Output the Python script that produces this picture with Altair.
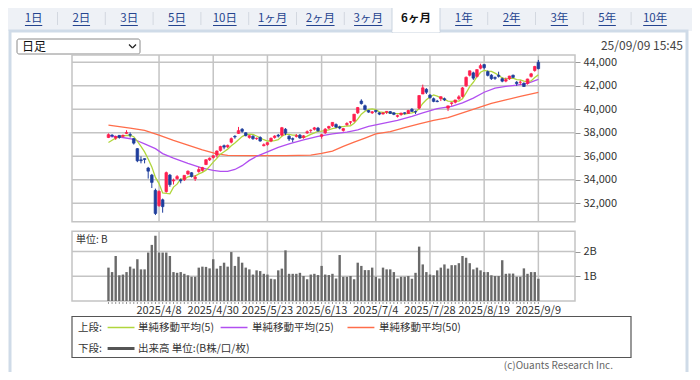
import altair as alt
import pandas as pd

# ---------------- data ----------------
month_days = {
    3: [18, 19, 21, 24, 25, 26, 27, 28, 31],
    4: [1, 2, 3, 4, 7, 8, 9, 10, 11, 14, 15, 16, 17, 18, 21, 22, 23, 24, 25, 28, 30],
    5: [1, 2, 7, 8, 9, 12, 13, 14, 15, 16, 19, 20, 21, 22, 23, 26, 27, 28, 29, 30],
    6: [2, 3, 4, 5, 6, 9, 10, 11, 12, 13, 16, 17, 18, 19, 20, 23, 24, 25, 26, 27, 30],
    7: [1, 2, 3, 4, 7, 8, 9, 10, 11, 14, 15, 16, 17, 18, 22, 23, 24, 25, 28, 29, 30, 31],
    8: [1, 4, 5, 6, 7, 8, 12, 13, 14, 15, 18, 19, 20, 21, 22, 25, 26, 27, 28, 29],
    9: [1, 2, 3, 4, 5, 8, 9],
}
dates = [f"2025/{m}/{d}" for m, ds in month_days.items() for d in ds]

opens = [37600, 37800, 37550, 37780, 37700, 37950, 37850, 37500, 36650, 35700,
         35800, 35000, 34400, 33100, 31800, 32300, 33000, 34400, 33900, 34100,
         34000, 34000, 34500, 34600, 34100, 34700, 34800, 35300, 35700, 35900,
         36100, 36500, 36900, 36800, 37200, 37700, 37950, 38300, 38000, 37600,
         37700, 37500, 37600, 36900, 37000, 37300, 37600, 37800, 37800, 38300,
         37700, 37500, 37700, 37800, 37600, 38000, 38200, 38300, 38400, 37700,
         38000, 38400, 38600, 38700, 38500, 38200, 38700, 38900, 39000, 39700,
         40700, 40300, 39900, 39700, 39900, 39700, 39600, 39750, 39800, 39700,
         39400, 39550, 39700, 39650, 40000, 39800, 40100, 41300, 41700, 41200,
         40900, 40700, 40900, 40900, 40100, 40500, 40600, 40900, 41100, 42000,
         42900, 43100, 42800, 43500, 43800, 43200, 42900, 42700, 42900, 42600,
         42400, 42600, 42900, 42300, 42300, 42200, 42200, 42800, 43300, 44000]
highs = [37950, 37880, 37760, 37800, 37850, 38220, 38030, 37560, 36700, 36000,
         35830, 35100, 34500, 33250, 33100, 32400, 34700, 34500, 34100, 34400,
         34100, 34400, 34800, 34650, 34400, 35100, 35100, 35750, 35900, 36100,
         36500, 36900, 37000, 37000, 37600, 37800, 38500, 38400, 38050, 37800,
         37800, 37600, 37700, 37100, 37200, 37600, 37800, 37900, 38500, 38400,
         37800, 37600, 37900, 37900, 37800, 38200, 38300, 38500, 38500, 37900,
         38400, 38600, 38900, 38800, 38600, 38400, 38900, 39000, 39600, 40200,
         40850, 40400, 39950, 39850, 39950, 39750, 39750, 39850, 39850, 39750,
         39550, 39700, 39750, 39950, 40100, 39900, 41200, 42100, 41800, 41300,
         41000, 40800, 41100, 41000, 40300, 40600, 40800, 41200, 41900, 42800,
         43300, 43200, 43400, 43880, 43850, 43300, 43000, 42800, 43200, 42700,
         42700, 42850, 42950, 42400, 42450, 42300, 42600, 43100, 43700, 44200]
lows = [37550, 37600, 37400, 37500, 37600, 37900, 37600, 37000, 35500, 35400,
        35400, 34100, 33300, 31000, 31700, 31200, 32900, 33400, 33600, 34000,
        33700, 33900, 34400, 34200, 33900, 34600, 34700, 35250, 35600, 35800,
        35900, 36400, 36600, 36700, 37100, 37500, 37900, 38000, 37700, 37500,
        37400, 37400, 37250, 36850, 36900, 37200, 37500, 37600, 37700, 37800,
        37300, 37200, 37600, 37500, 37500, 37900, 38000, 38200, 38100, 37500,
        37900, 38300, 38500, 38400, 38300, 38100, 38600, 38700, 38900, 39600,
        40400, 39900, 39700, 39600, 39700, 39500, 39550, 39600, 39600, 39500,
        39300, 39450, 39550, 39600, 39800, 39600, 40000, 41300, 41300, 40900,
        40600, 40600, 40700, 40700, 39850, 40300, 40500, 40800, 41000, 41900,
        42800, 42500, 42700, 43400, 43400, 42800, 42500, 42500, 42700, 42300,
        42300, 42500, 42650, 42000, 42100, 41900, 42100, 42700, 43200, 43400]
closes = [37845, 37751, 37677, 37608, 37780, 38027, 37799, 37120, 35617, 35624,
          35725, 34735, 33780, 31136, 33012, 31714, 34609, 33586, 33982, 34268,
          33920, 34378, 34730, 34280, 34221, 34869, 35039, 35706, 35840, 36045,
          36452, 36831, 36780, 36929, 37503, 37644, 38183, 38128, 37756, 37754,
          37499, 37529, 37299, 36986, 37160, 37532, 37724, 37722, 38433, 37965,
          37471, 37447, 37747, 37554, 37742, 38089, 38212, 38421, 38173, 37834,
          38311, 38537, 38885, 38488, 38403, 38354, 38791, 38942, 39585, 40151,
          40487, 39986, 39762, 39786, 39811, 39588, 39689, 39821, 39646, 39570,
          39460, 39678, 39663, 39901, 39819, 39775, 41171, 41826, 41456, 40998,
          40675, 40655, 41070, 40800, 40291, 40550, 40795, 41059, 41820, 42718,
          43275, 42649, 43378, 43714, 43546, 42889, 42610, 42633, 42808, 42394,
          42520, 42829, 42718, 42189, 42310, 41939, 42580, 43019, 43644, 43459]
volumes = [1.35, 1.17, 1.82, 1.04, 1.07, 1.17, 1.39, 1.31, 1.69, 1.28,
           1.28, 1.96, 2.27, 2.64, 1.96, 1.96, 1.96, 1.82, 1.17, 1.14,
           1.17, 1.10, 1.04, 0.98, 0.98, 1.35, 1.39, 1.38, 1.32, 1.69,
           1.31, 1.42, 1.55, 1.39, 1.98, 1.42, 1.79, 1.55, 1.35, 1.28,
           1.07, 1.24, 1.21, 1.10, 1.07, 0.90, 0.88, 1.24, 1.31, 2.05,
           1.10, 1.10, 1.10, 1.14, 1.01, 0.88, 1.07, 1.10, 1.05, 1.42,
           1.07, 1.05, 1.10, 0.91, 1.86, 0.98, 0.98,
           1.01, 0.88, 1.55, 1.42, 1.25, 1.25, 1.35, 0.98, 0.91, 1.35,
           1.28, 1.28, 1.17, 0.91, 0.98, 0.98, 1.01, 0.90, 1.14, 2.20,
           1.48, 1.17, 1.07, 1.04, 1.24, 1.35, 1.48, 1.31, 1.45, 1.45,
           1.53, 1.82, 1.75, 1.53, 1.28, 1.35, 1.24, 1.17, 1.17, 1.04,
           1.01, 1.01, 1.65, 1.10, 1.11, 1.11, 0.98, 0.98, 1.32, 1.10,
           1.17, 1.17, 0.90]
ma5 = [37180, 37370, 37550, 37660, 37730, 37770, 37780, 37670, 37270, 36840,
       36380, 35770, 35100, 34200, 33680, 32880, 32850, 32810, 33380, 33630,
       34070, 34030, 34260, 34320, 34310, 34500, 34630, 34820, 35140, 35500,
       35820, 36180, 36390, 36610, 36900, 37140, 37410, 37680, 37840, 37890,
       37860, 37730, 37570, 37410, 37300, 37300, 37340, 37420, 37710, 37870,
       37860, 37810, 37810, 37640, 37590, 37720, 37870, 38000, 38130, 38140,
       38190, 38250, 38350, 38410, 38530, 38530, 38580, 38590, 38810, 39160,
       39590, 39830, 39990, 40040, 39970, 39790, 39730, 39740, 39710, 39660,
       39640, 39640, 39600, 39650, 39700, 39770, 40060, 40500, 40810, 41050,
       41230, 41120, 40970, 40840, 40700, 40670, 40700, 40700, 40900, 41390,
       41930, 42300, 42770, 43150, 43310, 43240, 43230, 43080, 42900, 42670,
       42590, 42640, 42650, 42530, 42510, 42400, 42350, 42410, 42700, 42930]
ma25_at = [0, 4, 7, 10, 13, 15, 18, 22, 26, 29, 31, 33, 35, 37, 39, 41, 44, 47, 50,
           54, 58, 62, 66, 69, 72, 76, 80, 84, 87, 91, 95, 98, 101, 104, 107, 110,
           113, 116, 119]
ma25_val = [37750, 37600, 37450, 37050, 36650, 36230, 35850, 35400, 35000, 34800,
            34720, 34720, 34880, 35200, 35650, 36000, 36380, 36750, 37050, 37400,
            37700, 37900, 38050, 38250, 38550, 38800, 39050, 39400, 39700, 40050,
            40250, 40550, 40950, 41450, 41800, 41950, 42050, 42200, 42550]
ma50_at = [0, 6, 10, 14, 18, 22, 26, 30, 33, 39, 49, 56, 59, 62, 65, 68, 71, 74,
           78, 82, 86, 90, 94, 98, 102, 106, 110, 114, 119]
ma50_val = [38650, 38400, 38200, 37800, 37350, 36950, 36550, 36200, 36080, 36050,
            36050, 36100, 36250, 36450, 36850, 37200, 37550, 37900, 38100, 38450,
            38750, 39050, 39300, 39700, 40100, 40500, 40800, 41100, 41450]

tick_labels = ["2025/4/8", "2025/4/30", "2025/5/23", "2025/6/13",
               "2025/7/4", "2025/7/28", "2025/8/19", "2025/9/9"]
price_ticks = [32000, 34000, 36000, 38000, 40000, 42000, 44000]
vol_ticks = [1, 2]
tabs = ["1日", "2日", "3日", "5日", "10日", "1ヶ月", "2ヶ月", "3ヶ月", "6ヶ月",
        "1年", "2年", "3年", "5年", "10年"]
selected_tab = "6ヶ月"
ma_labels = ["単純移動平均(5)", "単純移動平均(25)", "単純移動平均(50)"]
vol_label = "出来高 単位:(B株/口/枚)"

# ---------------- tables ----------------
bars = pd.DataFrame({"i": range(len(dates)), "date": dates, "o": opens, "h": highs,
                     "l": lows, "c": closes, "v": volumes, "ma5": ma5})
ma25_df = pd.DataFrame({"i": ma25_at, "val": ma25_val})
ma50_df = pd.DataFrame({"i": ma50_at, "val": ma50_val})
tick_pos = [dates.index(t) for t in tick_labels]
tick_df = pd.DataFrame({"i": tick_pos, "label": tick_labels})
ptick_df = pd.DataFrame({"pv": price_ticks})
vtick_df = pd.DataFrame({"vv": vol_ticks})
one = pd.DataFrame({"k": [0]})

# ---------------- style ----------------
FONT = "Noto Sans CJK JP"
RED, BLUE = "#ff1f4f", "#1e3d9c"
C5, C25, C50 = "#b0d63c", "#b14ff0", "#ff6d4a"
GRID = "#c4c4c4"
TXT = "#333333"

# plot geometry (chart coords = page - 8)
PX0, PX1 = 64, 567
PY0, PY1 = 47, 213.7      # price panel top / bottom
VY0, VY1 = 223.3, 293     # volume panel top / bottom
TOTAL_W, TOTAL_H = 684, 364

xscale = alt.Scale(domain=[-8.71, 127.76], range=[PX0, PX1], nice=False, zero=False)
yprice = alt.Scale(domain=[30434, 44621], range=[PY1, PY0], nice=False, zero=False)
yvol = alt.Scale(domain=[0, 2.82], range=[VY1, VY0], nice=False, zero=False)


def xn(field="i"):
    return alt.X(f"{field}:Q", scale=xscale, axis=None)


def txt(s, x, y, size=11, color=TXT, align="left", weight="normal"):
    return alt.Chart(one).mark_text(text=s, align=align, baseline="middle", fontSize=size,
                                    color=color, fontWeight=weight, font=FONT).encode(
        x=alt.value(x), y=alt.value(y))


def rule(x, y, x2, y2, color, w=1.0):
    return alt.Chart(one).mark_rule(color=color, strokeWidth=w).encode(
        x=alt.value(x), y=alt.value(y), x2=alt.value(x2), y2=alt.value(y2))


def box(x, y, x2, y2, fill="white", stroke=None, w=1.0, r=0):
    kw = dict(fill=fill, cornerRadius=r)
    if stroke:
        kw.update(stroke=stroke, strokeWidth=w)
    return alt.Chart(one).mark_rect(**kw).encode(
        x=alt.value(x), y=alt.value(y), x2=alt.value(x2), y2=alt.value(y2))


# ---------------- background decoration ----------------
deco = [
    box(0, 0, 684, 23, fill="#eef1f6"),
    box(2, 23, 679, 372, fill="white", stroke="#cfdbe8", w=3),
]
step, c0 = 47.8, 25.6
for k, lab in enumerate(tabs):
    cx = c0 + step * k
    if lab == selected_tab:
        deco.append(box(cx - 24, -1, cx + 24, 24.5, fill="white", stroke="#c9d3df", w=1))
        deco.append(rule(cx - 23.5, 23.5, cx + 23.5, 23.5, "white", 2))
        deco.append(txt(lab, cx, 10.5, size=11.5, color="#111111", align="center", weight="bold"))
    else:
        deco.append(txt(lab, cx, 10.5, size=11.5, color="#25448f", align="center"))
        nd = sum(ch.isdigit() for ch in lab)
        wdt = 6.3 * nd + 11 * (len(lab) - nd)
        deco.append(rule(cx - wdt / 2, 17.5, cx + wdt / 2, 17.5, "#25448f", 1))
    if k < len(tabs) - 1 and lab != selected_tab and tabs[k + 1] != selected_tab:
        sx = cx + step / 2
        deco.append(rule(sx, 4, sx, 17, "#d3d8e0", 1))

# dropdown
deco += [
    box(9, 31, 132, 46, fill="white", stroke="#8a8a8a", w=1, r=2),
    txt("日足", 14, 38.8, size=12, color="#111111"),
    rule(121, 36.5, 124.5, 40, "#222222", 1.3),
    rule(124.5, 40, 128, 36.5, "#222222", 1.3),
    txt("25/09/09 15:45", 675, 38, size=12, color="#444444", align="right"),
]

# ---------------- price panel ----------------
p_frame = alt.Chart(one).mark_rect(fill="white", stroke=GRID, strokeWidth=1.5).encode(
    x=alt.value(PX0), x2=alt.value(PX1), y=alt.value(PY0), y2=alt.value(PY1))
p_hgrid = alt.Chart(ptick_df).mark_rule(color=GRID, strokeWidth=1.5).encode(
    y=alt.Y("pv:Q", scale=yprice,
            axis=alt.Axis(orient="right", values=price_ticks,
                          labelExpr="format(datum.value, ',.0f')", grid=False,
                          domain=False, ticks=True, tickSize=5, tickColor="#999999",
                          labelFontSize=11, labelColor=TXT, labelFont=FONT,
                          labelPadding=3, title=None, zindex=2)),
    x=alt.value(PX0), x2=alt.value(PX1))
p_vgrid = alt.Chart(tick_df).mark_rule(color=GRID, strokeWidth=1.5).encode(
    x=xn(), y=alt.value(PY0), y2=alt.value(PY1))
line50 = alt.Chart(ma50_df).mark_line(color=C50, strokeWidth=1.3).encode(
    x=xn(), y=alt.Y("val:Q", scale=yprice))
line25 = alt.Chart(ma25_df).mark_line(color=C25, strokeWidth=1.3).encode(
    x=xn(), y=alt.Y("val:Q", scale=yprice))
line5 = alt.Chart(bars).mark_line(color=C5, strokeWidth=1.3).encode(
    x=xn(), y=alt.Y("ma5:Q", scale=yprice))
candle_color = alt.condition("datum.c >= datum.o", alt.value(RED), alt.value(BLUE))
wicks = alt.Chart(bars).mark_rule(strokeWidth=1).encode(
    x=xn(), y=alt.Y("l:Q", scale=yprice), y2="h:Q", color=candle_color)
bodies = alt.Chart(bars).mark_bar(width=2.6, strokeWidth=0.7).encode(
    x=xn(), y=alt.Y("o:Q", scale=yprice), y2="c:Q", color=candle_color,
    stroke=candle_color)
price = alt.layer(p_frame, p_hgrid, p_vgrid, line50, line25, line5, wicks, bodies)

# ---------------- volume panel ----------------
v_frame = alt.Chart(one).mark_rect(fill="white", stroke=GRID, strokeWidth=1.5).encode(
    x=alt.value(PX0), x2=alt.value(PX1), y=alt.value(VY0), y2=alt.value(VY1))
v_hgrid = alt.Chart(vtick_df).mark_rule(color=GRID, strokeWidth=1.5).encode(
    y=alt.Y("vv:Q", scale=yvol,
            axis=alt.Axis(orient="right", values=vol_ticks, labelExpr="datum.value + 'B'",
                          grid=False, domain=False, tickSize=5, tickColor="#999999",
                          labelFontSize=11, labelColor=TXT, labelFont=FONT,
                          labelPadding=3, title=None, zindex=2)),
    x=alt.value(PX0), x2=alt.value(PX1))
v_vgrid = alt.Chart(tick_df).mark_rule(color=GRID, strokeWidth=1.5).encode(
    x=xn(), y=alt.value(VY0), y2=alt.value(VY1))
vbars = alt.Chart(bars).mark_bar(width=2.4, color="#6a6a6a").encode(
    x=xn(), y=alt.Y("v:Q", scale=yvol))
bar_ticks = alt.Chart(bars).mark_rule(color="#999999", strokeWidth=1).encode(
    x=xn(), y=alt.value(VY1 + 1), y2=alt.value(VY1 + 3))
date_text = alt.Chart(tick_df).mark_text(align="center", baseline="middle", fontSize=11,
                                         color=TXT, font=FONT).encode(
    x=xn(), y=alt.value(VY1 + 10), text="label:N")
unit = txt("単位: B", 68, 232, size=10, color=TXT)
volume = alt.layer(v_frame, v_hgrid, v_vgrid, vbars, bar_ticks, date_text, unit)

# ---------------- legend box ----------------
legend = [
    box(64, 308.5, 623, 349.5, fill="white", stroke="#555555", w=1.2),
    txt("上段:", 70, 320, size=10.5),
    rule(99.6, 319.5, 126.5, 319.5, C5, 1.5),
    txt(ma_labels[0], 130, 320, size=10.5),
    rule(212.6, 319.5, 239.5, 319.5, C25, 1.5),
    txt(ma_labels[1], 244, 320, size=10.5),
    rule(339.5, 319.5, 366.4, 319.5, C50, 1.5),
    txt(ma_labels[2], 371, 320, size=10.5),
    txt("下段:", 70, 341, size=10.5),
    rule(99.6, 340.5, 126.5, 340.5, "#555555", 3),
    txt(vol_label, 130, 341, size=10.5),
    txt("(c)Ouants Research Inc.", 605, 357.5, size=10, color="#666666", align="right"),
]

chart = alt.layer(*deco, price, volume, *legend).resolve_scale(y="independent").properties(
    width=PX1, height=VY1, autosize="none",
    padding={"left": 0, "top": 0, "right": TOTAL_W - PX1, "bottom": TOTAL_H - VY1},
).configure_view(stroke=None)

chart.save("out.html", embed_options={"renderer": "svg", "actions": False})
